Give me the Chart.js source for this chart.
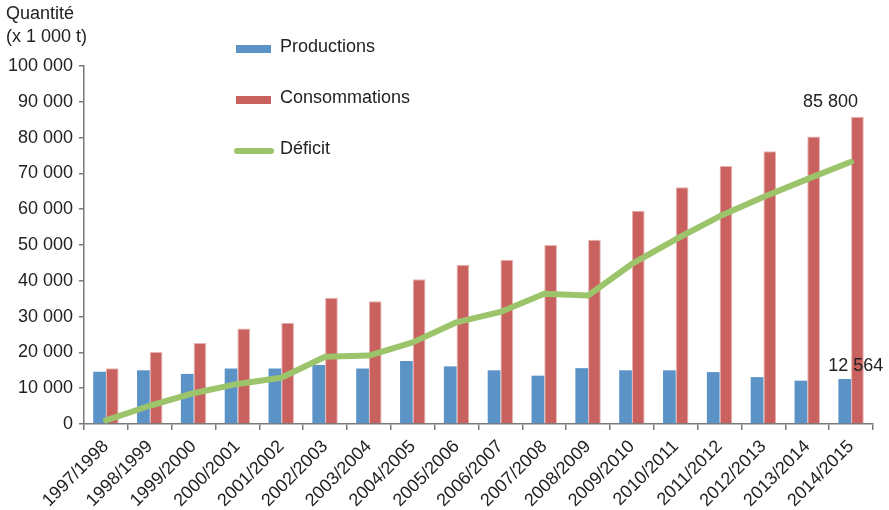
<!DOCTYPE html>
<html>
<head>
<meta charset="utf-8">
<script src="https://cdn.jsdelivr.net/npm/chart.js@4.4.1/dist/chart.umd.min.js"></script>
<style>
  html, body { margin: 0; padding: 0; background: #fff; }
  #wrap { width: 889px; height: 510px; }
</style>
</head>
<body>
<div id="wrap"><canvas id="deficitChart" width="889" height="510"></canvas></div>
<script>
const campagnes = ['1997/1998', '1998/1999', '1999/2000', '2000/2001', '2001/2002', '2002/2003',
    '2003/2004', '2004/2005', '2005/2006', '2006/2007', '2007/2008', '2008/2009',
    '2009/2010', '2010/2011', '2011/2012', '2012/2013', '2013/2014', '2014/2015'];
const productions = [14600, 15000, 14000, 15500, 15500, 16500, 15500, 17600, 16100, 15000,
    13500, 15600, 15000, 15000, 14500, 13100, 12100, 12564];
const consommations = [15600, 20100, 22600, 26700, 28300, 35300, 34300, 40400, 44500, 45900,
    50000, 51500, 59600, 66100, 72100, 76200, 80300, 85800];
const deficit = [1000, 5100, 8600, 11200, 12900, 18800, 19100, 22800, 28400, 31300,
    36400, 35900, 44700, 51600, 58000, 63400, 68400, 73236];
const yTicks = [0, 10000, 20000, 30000, 40000, 50000, 60000, 70000, 80000, 90000, 100000];

const FONT = 'Liberation Sans, Arial, Helvetica, sans-serif';
const TEXT = '#222222';
const BLUE = '#5b93c7';
const RED = '#c9625f';
const GREEN = '#9bc46b';

function fmt(v) {
    return String(v).replace(/\B(?=(\d{3})+(?!\d))/g, ' ');
}

// axis title, legend and the two value labels
const extras = {
    id: 'extras',
    afterDraw(chart) {
        const ctx = chart.ctx;
        ctx.save();
        ctx.fillStyle = TEXT;
        ctx.font = '18px ' + FONT;
        ctx.textAlign = 'left';
        ctx.textBaseline = 'middle';
        ctx.fillText('Quantité', 6, 14);
        ctx.fillText('(x 1 000 t)', 6, 37);

        const items = [
            { label: 'Productions', color: BLUE, y: 49, line: false },
            { label: 'Consommations', color: RED, y: 100, line: false },
            { label: 'Déficit', color: GREEN, y: 151, line: true }
        ];
        items.forEach(function (it) {
            if (it.line) {
                ctx.strokeStyle = it.color;
                ctx.lineWidth = 6;
                ctx.lineCap = 'round';
                ctx.beginPath();
                ctx.moveTo(237, it.y);
                ctx.lineTo(271, it.y);
                ctx.stroke();
            } else {
                ctx.fillStyle = it.color;
                ctx.fillRect(236, it.y - 4, 35, 8);
            }
            ctx.fillStyle = TEXT;
            ctx.fillText(it.label, 280, it.y - 2);
        });

        const last = campagnes.length - 1;
        const redBar = chart.getDatasetMeta(1).data[last];
        const blueBar = chart.getDatasetMeta(0).data[last];
        ctx.textAlign = 'center';
        ctx.fillText(fmt(consommations[last]), redBar.x - 27, redBar.y - 15);
        ctx.fillText(fmt(productions[last]), blueBar.x + 11, blueBar.y - 13);
        ctx.restore();
    }
};

const ctx = document.getElementById('deficitChart').getContext('2d');

new Chart(ctx, {
    type: 'bar',
    data: {
        labels: campagnes,
        datasets: [{
            label: 'Productions',
            data: productions,
            backgroundColor: BLUE,
            barPercentage: 1,
            categoryPercentage: 0.58,
            order: 1
        }, {
            label: 'Consommations',
            data: consommations,
            backgroundColor: RED,
            borderColor: '#e8b3b1',
            borderWidth: { top: 1, left: 1, right: 1, bottom: 0 },
            barPercentage: 1,
            categoryPercentage: 0.58,
            order: 1
        }, {
            type: 'line',
            label: 'Déficit',
            data: deficit,
            borderColor: GREEN,
            borderWidth: 6,
            borderCapStyle: 'round',
            borderJoinStyle: 'round',
            pointRadius: 0,
            tension: 0,
            fill: false,
            order: 0
        }]
    },
    options: {
        responsive: false,
        animation: false,
        devicePixelRatio: 1,
        layout: { padding: { top: 66, right: 16, left: 0, bottom: 0 } },
        plugins: {
            legend: { display: false },
            tooltip: { enabled: false }
        },
        scales: {
            x: {
                afterFit: function (scale) { scale.height = 86; },
                border: { color: '#7a7a7a', width: 1.5 },
                grid: { drawOnChartArea: false, tickLength: 6, color: '#7a7a7a', lineWidth: 1.5, offset: true },
                ticks: {
                    color: TEXT,
                    font: { family: FONT, size: 18 },
                    minRotation: 45,
                    maxRotation: 45,
                    autoSkip: false,
                    padding: 6
                }
            },
            y: {
                min: 0,
                max: 100000,
                afterFit: function (scale) { scale.width = 84; },
                afterBuildTicks: function (scale) {
                    scale.ticks = yTicks.map(function (v) { return { value: v }; });
                },
                border: { color: '#7a7a7a', width: 1.5 },
                grid: { drawOnChartArea: false, tickLength: 5, color: '#7a7a7a', lineWidth: 1.5 },
                ticks: {
                    color: TEXT,
                    font: { family: FONT, size: 18 },
                    padding: 6,
                    callback: function (value) { return fmt(value); }
                }
            }
        }
    },
    plugins: [extras]
});
</script>
</body>
</html>
